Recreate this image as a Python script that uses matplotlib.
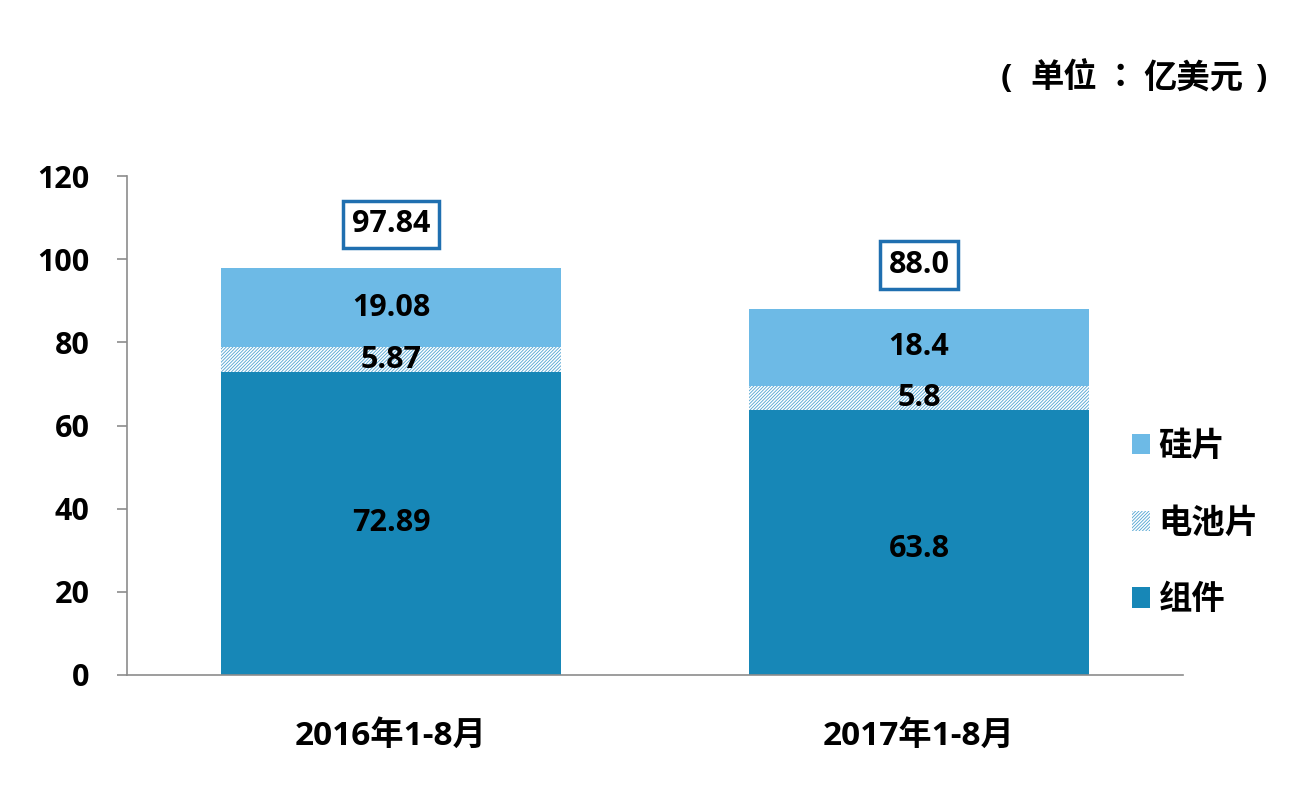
import matplotlib
matplotlib.use("Agg")
import matplotlib.pyplot as plt
from matplotlib.patches import Patch

plt.rcParams['font.family'] = ['Open Sans', 'Noto Sans CJK SC', 'DejaVu Sans']
plt.rcParams['hatch.linewidth'] = 0.6

categories = ["2016年1-8月", "2017年1-8月"]
module = [72.89, 63.8]
cell = [5.87, 5.8]
wafer = [19.08, 18.4]
totals = [97.84, 88.0]
module_labels = ["72.89", "63.8"]
cell_labels = ["5.87", "5.8"]
wafer_labels = ["19.08", "18.4"]
total_labels = ["97.84", "88.0"]
yticks = [0, 20, 40, 60, 80, 100, 120]

c_module = "#1787B7"
c_wafer = "#6DBAE6"
c_hatch = "#4FA3D1"
HATCH = "//////////"

fig = plt.figure(figsize=(13.06, 8.06), dpi=100)
ax = fig.add_axes([127/1306, 1-675/806, (1183-127)/1306, (675-176)/806])

x = list(range(len(categories)))
w = 0.644
ax.bar(x, module, w, color=c_module, linewidth=0)
ax.bar(x, cell, w, bottom=module, color="white", edgecolor=c_hatch, hatch=HATCH, linewidth=0)
bottom3 = [a + b for a, b in zip(module, cell)]
ax.bar(x, wafer, w, bottom=bottom3, color=c_wafer, linewidth=0)

fs = 22
for i in x:
    ax.text(i, module[i] / 2 - 1.5 * i, module_labels[i], ha="center", va="center",
            fontsize=fs, fontweight="bold", color="black")
    ax.text(i, module[i] + cell[i] / 2, cell_labels[i], ha="center", va="center",
            fontsize=fs, fontweight="bold", color="black")
    ax.text(i, bottom3[i] + wafer[i] / 2, wafer_labels[i], ha="center", va="center",
            fontsize=fs, fontweight="bold", color="black")
    ax.text(i, totals[i] + 10.6, total_labels[i], ha="center", va="center",
            fontsize=fs, fontweight="bold", color="black",
            bbox=dict(boxstyle="square,pad=0.28", facecolor="white", edgecolor="#1F6FB0", linewidth=2.5))

ax.set_xlim(-0.5, 1.5)
ax.set_ylim(0, 120)
ax.set_yticks(yticks)
ax.set_yticklabels([str(v) for v in yticks], fontsize=fs, fontweight="bold")
ax.set_xticks(x)
ax.set_xticklabels(categories, fontsize=24, fontweight="bold")
ax.tick_params(axis="y", length=7, width=1.2, color="#8C8C8C", pad=20)
ax.tick_params(axis="x", length=0, pad=32)
for s in ["top", "right"]:
    ax.spines[s].set_visible(False)
for s in ["left", "bottom"]:
    ax.spines[s].set_color("#8C8C8C")
    ax.spines[s].set_linewidth(1.2)

handles = [Patch(facecolor=c_wafer, linewidth=0),
           Patch(facecolor="white", edgecolor=c_hatch, hatch=HATCH, linewidth=0),
           Patch(facecolor=c_module, linewidth=0)]
labels = ["硅片", "电池片", "组件"]
fig.legend(handles, labels, loc="upper left", bbox_to_anchor=(1102/1306, 1-400/806),
           frameon=False, prop=dict(family=['Noto Sans CJK SC'], size=24, weight="bold"),
           handlelength=0.55, handleheight=0.55, handletextpad=0.25, labelspacing=1.31)

# unit note: （ 单位 ： 亿美元 ）
ty = 1 - 78/806
tkw = dict(fontsize=24, fontweight="bold", va="center", family=['Noto Sans CJK TC'])
fig.text(1001/1306, ty, "(", ha="left", **dict(tkw, family=['Open Sans']))
fig.text(1030/1306, ty, "单位", ha="left", **tkw)
fig.text(1120/1306, ty, "：", ha="center", **tkw)
fig.text(1243/1306, ty, "亿美元", ha="right", **tkw)
fig.text(1266/1306, ty, ")", ha="right", **dict(tkw, family=['Open Sans']))

fig.savefig("out.png", dpi=100)
